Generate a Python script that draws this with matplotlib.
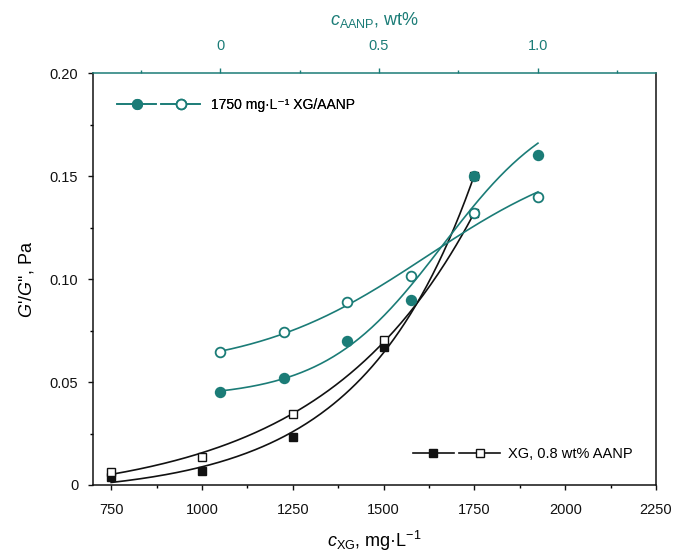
import numpy as np
import matplotlib
matplotlib.use("Agg")
import matplotlib.pyplot as plt
from matplotlib.lines import Line2D
from matplotlib.legend_handler import HandlerTuple
from matplotlib.ticker import MultipleLocator

plt.rcParams['font.family'] = ['Liberation Sans', 'DejaVu Sans']
plt.rcParams['mathtext.fontset'] = 'custom'
plt.rcParams['mathtext.rm'] = 'Liberation Sans'
plt.rcParams['mathtext.it'] = 'Liberation Sans:italic'
plt.rcParams['mathtext.bf'] = 'Liberation Sans:bold'

# ---- data ----
xg_conc = [750, 1000, 1250, 1500, 1750]            # mg/L
xg_filled = [0.0037, 0.0069, 0.0233, 0.0669, 0.150]
xg_open = [0.0065, 0.0138, 0.0345, 0.0704, 0.132]

aanp_conc = [0.0, 0.2, 0.4, 0.6, 0.8, 1.0]         # wt%
aanp_filled = [0.045, 0.052, 0.0701, 0.0899, 0.150, 0.1603]
aanp_open = [0.0645, 0.0742, 0.0888, 0.1015, 0.1323, 0.140]

x_ticks = [750, 1000, 1250, 1500, 1750, 2000, 2250]
y_ticks = [0, 0.05, 0.10, 0.15, 0.20]
y_ticklabels = ['0', '0.05', '0.10', '0.15', '0.20']
top_ticks = [0, 0.5, 1.0]
top_ticklabels = ['0', '0.5', '1.0']

TEAL = '#1b7c77'
BLACK = '#111111'

# top axis mapping: 0 wt% <-> 1050 mg/L, 1 wt% <-> 1925 mg/L
XMIN, XMAX = 700, 2250
MAP0, MAP1 = 1050, 1925


def fit_logistic(x, y, n=200):
    """4-parameter sigmoid fit (relative least squares)."""
    x = np.asarray(x, float); y = np.asarray(y, float)
    w = 1.0 / y
    best = None
    for c in np.linspace(0.0, 1.6, 161):
        for d in np.linspace(0.04, 0.8, 153):
            s = 1.0 / (1.0 + np.exp(-(x - c) / d))
            A = np.column_stack([np.ones_like(x), s])
            coef, *_ = np.linalg.lstsq(A * w[:, None], y * w, rcond=None)
            err = np.sum(((A @ coef - y) * w) ** 2)
            if best is None or err < best[0]:
                best = (err, c, d, coef)
    _, c, d, coef = best
    xs = np.linspace(x.min(), x.max(), n)
    return xs, coef[0] + coef[1] / (1.0 + np.exp(-(xs - c) / d))


def fit_exp(x, y, n=200):
    """Exponential growth fit y = y0 + a*exp(b*x)."""
    x = np.asarray(x, float); y = np.asarray(y, float)
    best = None
    for b in np.linspace(0.0005, 0.008, 751):
        e = np.exp(b * (x - x.min()))
        A = np.column_stack([np.ones_like(x), e])
        coef, *_ = np.linalg.lstsq(A, y, rcond=None)
        err = np.sum((A @ coef - y) ** 2)
        if best is None or err < best[0]:
            best = (err, b, coef)
    _, b, coef = best
    xs = np.linspace(x.min(), x.max(), n)
    return xs, coef[0] + coef[1] * np.exp(b * (xs - x.min()))


fig = plt.figure(figsize=(6.73, 5.55), dpi=100)
ax = fig.add_axes([93/673, 70/555, 563/673, 411.7/555])
ax2 = ax.twiny()

xs, ys = fit_exp(xg_conc, xg_filled)
ax.plot(xs, ys, color=BLACK, lw=1.2, zorder=2)
xs, ys = fit_exp(xg_conc, xg_open)
ax.plot(xs, ys, color=BLACK, lw=1.2, zorder=2)
ax.plot(xg_conc, xg_filled, 's', ms=6.2, mfc=BLACK, mec=BLACK, mew=1.0, zorder=3)
ax.plot(xg_conc, xg_open, 's', ms=6.2, mfc='white', mec=BLACK, mew=1.0, zorder=3)

xs, ys = fit_logistic(aanp_conc, aanp_filled)
ax2.plot(xs, ys, color=TEAL, lw=1.2, zorder=2)
xs, ys = fit_logistic(aanp_conc, aanp_open)
ax2.plot(xs, ys, color=TEAL, lw=1.2, zorder=2)
ax2.plot(aanp_conc, aanp_filled, 'o', ms=7, mfc=TEAL, mec=TEAL, mew=1.2, zorder=3)
ax2.plot(aanp_conc, aanp_open, 'o', ms=7, mfc='white', mec=TEAL, mew=1.3, zorder=3)

ax.set_xlim(XMIN, XMAX)
ax.set_ylim(0, 0.2)
ax2.set_xlim((XMIN - MAP0) / (MAP1 - MAP0), (XMAX - MAP0) / (MAP1 - MAP0))

ax.set_xticks(x_ticks)
ax.set_xticklabels([str(v) for v in x_ticks])
ax.xaxis.set_minor_locator(MultipleLocator(125))
ax.set_yticks(y_ticks)
ax.set_yticklabels(y_ticklabels)
ax.yaxis.set_minor_locator(MultipleLocator(0.025))
ax.tick_params(axis='both', which='major', direction='out', length=3.6, width=1,
               labelsize=10.5, colors=BLACK)
ax.tick_params(axis='both', which='minor', direction='out', length=2.2, width=1)
ax.tick_params(axis='x', which='major', pad=9)
ax.tick_params(axis='y', which='major', pad=7)

ax2.set_xticks(top_ticks)
ax2.set_xticklabels(top_ticklabels)
ax2.xaxis.set_minor_locator(MultipleLocator(0.25))
ax2.tick_params(axis='x', which='major', direction='out', length=3.6, width=1,
                labelsize=10.5, colors=TEAL, pad=11)
ax2.tick_params(axis='x', which='minor', direction='out', length=2.2, width=1, colors=TEAL)

for s in ['left', 'bottom', 'right']:
    ax.spines[s].set_color(BLACK)
    ax.spines[s].set_linewidth(1.1)
ax.spines['top'].set_visible(False)
ax2.spines['top'].set_color(TEAL)
ax2.spines['top'].set_linewidth(1.1)
for s in ['left', 'bottom', 'right']:
    ax2.spines[s].set_visible(False)

ax.set_xlabel(r'$c_{\mathrm{XG}}$, mg·L$^{-1}$', fontsize=13, labelpad=9)
ax.set_ylabel(r"$G$'/$G$'', Pa", fontsize=13, labelpad=10)
ax2.set_xlabel(r'$c_{\mathrm{AANP}}$, wt%', fontsize=13, color=TEAL, labelpad=10)

h1 = Line2D([], [], color=TEAL, lw=1.2, marker='o', ms=7, mfc=TEAL, mec=TEAL)
h2 = Line2D([], [], color=TEAL, lw=1.2, marker='o', ms=7, mfc='white', mec=TEAL, mew=1.3)
leg1 = ax.legend([(h1, h2)], ['1750 mg·L⁻¹ XG/AANP'],
                 handler_map={tuple: HandlerTuple(ndivide=None, pad=0.35)},
                 loc='center left', bbox_to_anchor=(0.0426, 0.923), frameon=False,
                 borderpad=0, borderaxespad=0, handlelength=6.0, handletextpad=0.75,
                 fontsize=10, numpoints=1)
ax.add_artist(leg1)
k1 = Line2D([], [], color=BLACK, lw=1.2, marker='s', ms=6.2, mfc=BLACK, mec=BLACK)
k2 = Line2D([], [], color=BLACK, lw=1.2, marker='s', ms=6.2, mfc='white', mec=BLACK)
leg2 = ax2.legend([(k1, k2)], ['XG, 0.8 wt% AANP'],
                  handler_map={tuple: HandlerTuple(ndivide=None, pad=0.35)},
                  loc='center left', bbox_to_anchor=(0.568, 0.075), frameon=False,
                  borderpad=0, borderaxespad=0, handlelength=6.0, handletextpad=0.55,
                  fontsize=10.5, numpoints=1)

fig.savefig('out.png', dpi=100)
